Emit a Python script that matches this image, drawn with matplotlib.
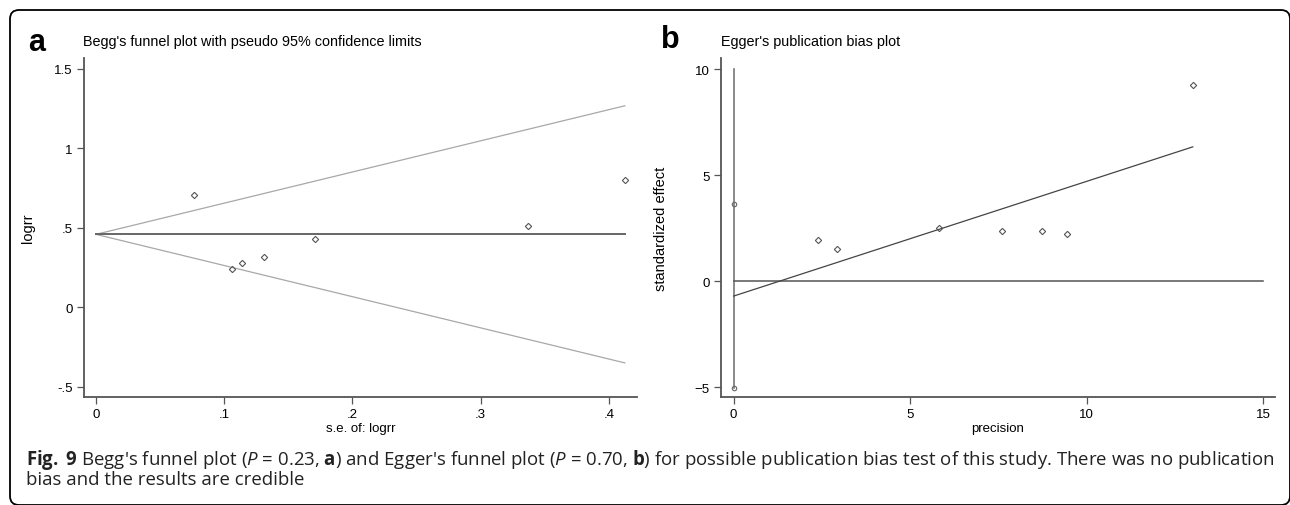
import matplotlib
matplotlib.use("Agg")
import matplotlib.pyplot as plt
import numpy as np
from matplotlib.patches import FancyBboxPatch

plt.rcParams['font.family'] = ['Liberation Sans', 'DejaVu Sans']

# panel a: Begg's funnel plot
se = [0.0767, 0.106, 0.114, 0.131, 0.171, 0.337, 0.4125]
logrr = [0.709, 0.239, 0.278, 0.316, 0.429, 0.515, 0.801]
pooled = 0.46
a_xticks = [0, 0.1, 0.2, 0.3, 0.4]
a_xlabels = ['0', '.1', '.2', '.3', '.4']
a_yticks = [-0.5, 0, 0.5, 1, 1.5]
a_ylabels = ['-.5', '0', '.5', '1', '1.5']

# panel b: Egger's plot
precision = [13.01, 9.45, 8.74, 7.60, 5.82, 2.94, 2.40]
std_effect = [9.24, 2.22, 2.38, 2.38, 2.48, 1.52, 1.95]
intercept = -0.71
slope = 0.541
ci_points = [3.63, -5.05]
ci_top = 10.0
b_xticks = [0, 5, 10, 15]
b_yticks = [-5, 0, 5, 10]

W, H = 1290, 506
fig = plt.figure(figsize=(W / 100, H / 100), dpi=100)

def px_axes(l, t, r, b):
    return fig.add_axes([l / W, 1 - b / H, (r - l) / W, (b - t) / H])

# background overlay in pixel coords
bg = fig.add_axes([0, 0, 1, 1], zorder=-1)
bg.set_xlim(0, W)
bg.set_ylim(H, 0)
bg.axis('off')
bg.add_patch(FancyBboxPatch((10, 11), 1280, 495, boxstyle='round,pad=0,rounding_size=9',
                            fill=False, ec='black', lw=1.3))

axc = '#555555'

def style(ax):
    for s in ['top', 'right']:
        ax.spines[s].set_visible(False)
    for s in ['left', 'bottom']:
        ax.spines[s].set_color(axc)
        ax.spines[s].set_linewidth(1.3)
    ax.tick_params(direction='out', length=5, width=0.9, color=axc, labelsize=9.5, pad=3)
    ax.patch.set_alpha(0)

# ---- panel a
ax1 = px_axes(83.5, 59, 637, 398)
style(ax1)
se_max = max(se)
xs = np.array([0, se_max])
ax1.plot(xs, pooled + 1.96 * xs, color='#a8a8a8', lw=0.9)
ax1.plot(xs, pooled - 1.96 * xs, color='#a8a8a8', lw=0.9)
ax1.plot(xs, [pooled, pooled], color='#666666', lw=1.4)
ax1.plot(se, logrr, linestyle='none', marker='D', ms=3.2, mfc='none', mec='#555555', mew=0.8)
ax1.set_xlim(-0.0097, 0.422)
ax1.set_ylim(-0.563, 1.569)
ax1.set_xticks(a_xticks)
ax1.set_xticklabels(a_xlabels)
ax1.set_yticks(a_yticks)
ax1.set_yticklabels(a_ylabels)
ax1.set_ylabel('logrr', fontsize=10.5)
ax1.yaxis.set_label_coords(-0.088, 0.5)
ax1.set_xlabel('s.e. of: logrr', fontsize=9.5)
ax1.xaxis.set_label_coords(0.5, -0.075)

# ---- panel b
ax2 = px_axes(720.7, 59, 1275, 398)
style(ax2)
pmax = max(precision)
ax2.plot([0, 0], [min(ci_points), ci_top], color='#777777', lw=1.2)
ax2.plot([0, 15], [0, 0], color='#555555', lw=1.1)
ax2.plot([0, pmax], [intercept, intercept + slope * pmax], color='#444444', lw=0.9)
ax2.plot([0, 0], ci_points, linestyle='none', marker='o', ms=3.2, mfc='none', mec='#666666', mew=0.8)
ax2.plot(precision, std_effect, linestyle='none', marker='D', ms=3.2, mfc='none', mec='#555555', mew=0.8)
ax2.set_xlim(-0.366, 15.34)
ax2.set_ylim(-5.47, 10.52)
ax2.set_xticks(b_xticks)
ax2.set_yticks(b_yticks)
ax2.set_ylabel('standardized effect', fontsize=10.5)
ax2.yaxis.set_label_coords(-0.095, 0.5)
ax2.set_xlabel('precision', fontsize=9.5)
ax2.xaxis.set_label_coords(0.5, -0.075)

# panel letters and titles
bg.text(28, 43, 'a', fontsize=22, fontweight='bold', va='center', ha='left')
bg.text(83, 42, "Begg's funnel plot with pseudo 95% confidence limits", fontsize=10.4, va='center')
bg.text(661, 40, 'b', fontsize=22, fontweight='bold', va='center', ha='left')
bg.text(721, 42, "Egger's publication bias plot", fontsize=10.4, va='center')

# caption
plt.rcParams['mathtext.fontset'] = 'custom'
plt.rcParams['mathtext.rm'] = 'Open Sans'
plt.rcParams['mathtext.bf'] = 'Open Sans:bold'
plt.rcParams['mathtext.it'] = 'Open Sans:italic'
cap1 = (r"$\mathbf{Fig.}$ $\mathbf{9}$ Begg's funnel plot ($\mathit{P}$ = 0.23, $\mathbf{a}$) and Egger's funnel plot "
        r"($\mathit{P}$ = 0.70, $\mathbf{b}$) for possible publication bias test of this study. There was no publication")
cap2 = "bias and the results are credible"
bg.text(26, 460, cap1, fontsize=13.4, family='Open Sans', va='center', color='#222222')
bg.text(26, 480, cap2, fontsize=13.4, family='Open Sans', va='center', color='#222222')

fig.savefig('out.png', dpi=100)
